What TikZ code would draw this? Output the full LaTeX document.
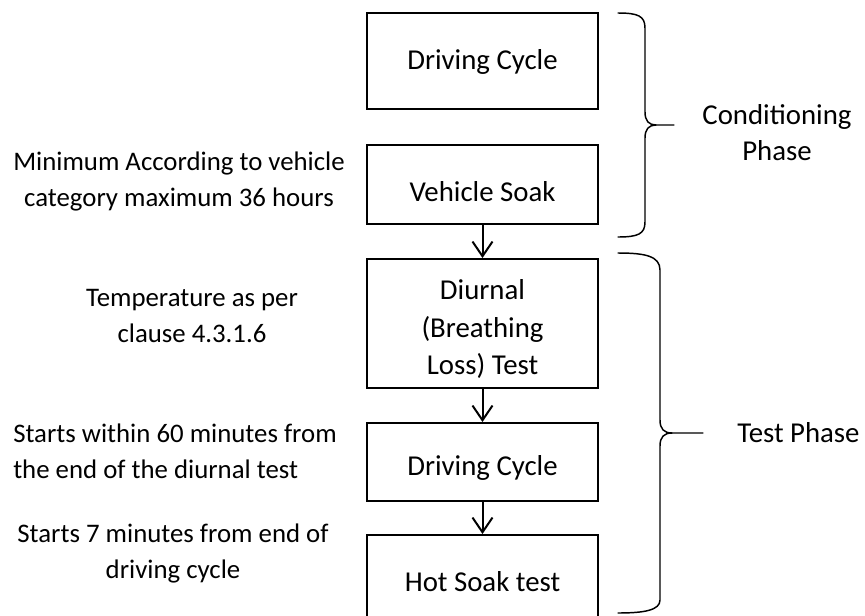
\documentclass[tikz,border=0pt]{standalone}
\usepackage{fontspec}
\setmainfont{Carlito}
\usetikzlibrary{arrows.meta}
\tikzset{
  stage/.style={draw=black, line width=1.5pt, minimum width=173.25pt, inner sep=0pt},
  words/.style={inner sep=0pt, align=center, font=\fontsize{21.6}{27}\selectfont},
  note/.style={words, font=\fontsize{20.1}{27}\selectfont},
  flow/.style={line width=1.5pt, -{Straight Barb[length=11pt,width=15pt,line width=1.5pt]}},
  bracket/.style={line width=1.1pt, line cap=round}
}
\begin{document}
\begin{tikzpicture}[x=0.75pt, y=-0.75pt]
    \useasboundingbox (0,0) rectangle (865,615);
    \node [stage, minimum height=72pt] (cycA) at (482.5,61) {};
    \node [words] (cycAtxt) at (482.5,62) {Driving Cycle};
    \node [stage, minimum height=59.25pt] (soak) at (482.5,184.5) {};
    \node [words] (soaktxt) at (482.5,192) {Vehicle Soak};
    \node [stage, minimum height=96.75pt] (diurnal) at (482.5,323.5) {};
    \node [words, font=\fontsize{21.6}{28}\selectfont] (diurnaltxt) at (482.5,329) {Diurnal\\(Breathing\\Loss) Test};
    \node [stage, minimum height=58.5pt] (cycB) at (482.5,462) {};
    \node [words] (cycBtxt) at (482.5,468) {Driving Cycle};
    \node [stage, minimum height=63.75pt] (hotsoak) at (482.5,577.5) {};
    \node [words] (hotsoaktxt) at (482.5,582) {Hot Soak test};
    \draw [flow] (soak) -- (diurnal);
    \draw [flow] (diurnal) -- (cycB);
    \draw [flow] (cycB) -- (hotsoak);
    \node [note] (soaknote) at (179,181) {Minimum According to vehicle\\category maximum 36 hours};
    \node [note] (tempnote) at (192,316) {Temperature as per\\clause 4.3.1.6};
    \node [note, align=left, anchor=west] (startnote) at (13,451) {Starts within 60 minutes from\\the end of the diurnal test};
    \node [note] (hotnote) at (173,553) {Starts 7 minutes from end of\\driving cycle};
    \draw [bracket] (618,13) .. controls (638,13) and (645,16) .. (645,28) -- (645,112) .. controls (645,121) and (649,125) .. (656,125) -- (674,125);
    \draw [bracket] (656,125) .. controls (649,125) and (645,129) .. (645,138) -- (645,222) .. controls (645,234) and (638,237) .. (618,237);
    \node [words] (condphase) at (777,133) {Conditioning\\Phase};
    \draw [bracket] (618,253) .. controls (645,253) and (660,256) .. (660,270) -- (660,420) .. controls (660,429) and (664,433) .. (672,433) -- (703,433);
    \draw [bracket] (672,433) .. controls (664,433) and (660,437) .. (660,446) -- (660,600) .. controls (660,610) and (645,613) .. (618,613);
    \node [words, anchor=west] (testphase) at (737,433) {Test Phase};
\end{tikzpicture}
\end{document}
